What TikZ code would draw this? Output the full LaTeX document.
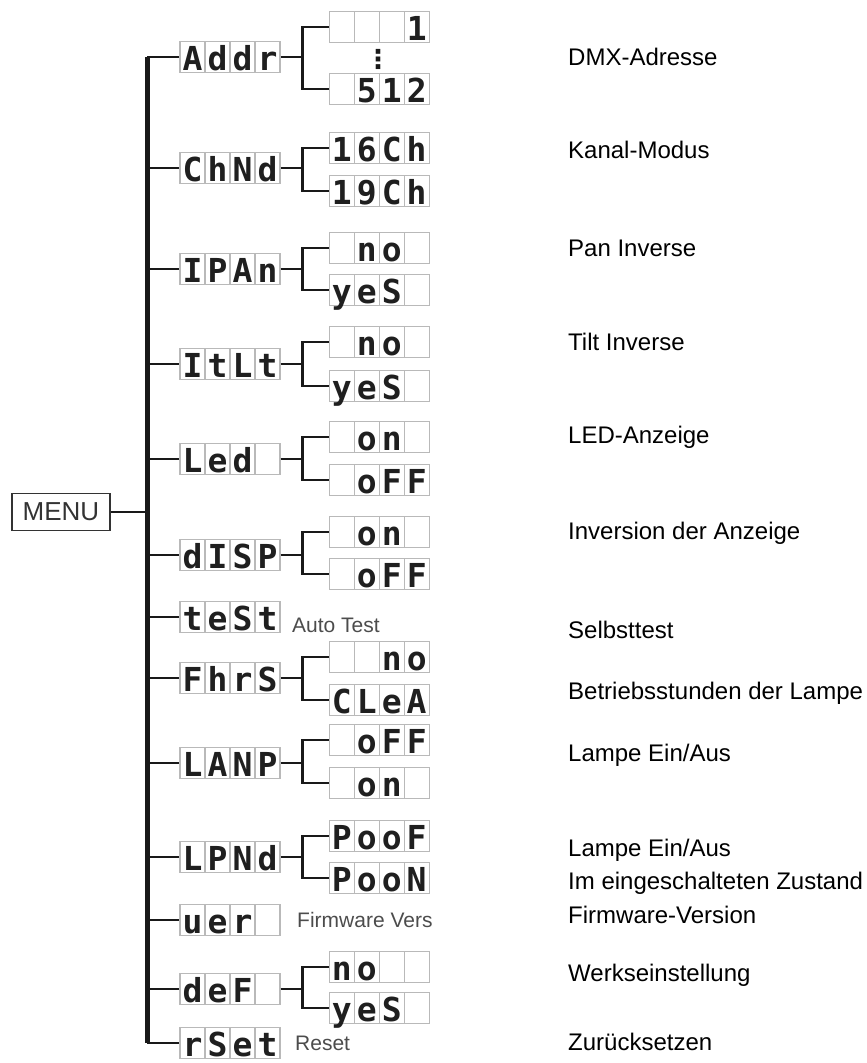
\documentclass[tikz,border=0pt]{standalone}
\usepackage{fontspec}
\setmainfont{Liberation Sans}
\newfontfamily\segfont{DejaVu Sans Mono}
\newfontfamily\symfont{DejaVu Sans}
\usetikzlibrary{positioning,calc}

% four display cells of a 4-digit LED readout
\newcommand{\cells}[4]{\makebox[25pt]{#1}\makebox[25pt]{#2}\makebox[25pt]{#3}\makebox[25pt]{#4}}

\begin{document}
\begin{tikzpicture}[x=1pt, y=-1pt,
  lcd/.style={draw=gray!55, line width=1.2pt, fill=white, minimum width=100pt, minimum height=31pt, inner sep=0pt,
    text height=27pt, text depth=1pt, text=black!88, font=\segfont\bfseries\fontsize{33}{33}\selectfont,
    path picture={\foreach \k in {1,2,3} \draw[gray!55, line width=1.2pt] ([xshift=\k*25pt]path picture bounding box.south west) -- ([xshift=\k*25pt]path picture bounding box.north west);}},
  menubox/.style={draw=black!80, line width=1.5pt, minimum width=98pt, minimum height=37pt, inner sep=0pt, text=black!80, font=\fontsize{26}{30}\selectfont},
  bus/.style={line width=5pt, black!90},
  wire/.style={line width=2.6pt, black!90},
  thinwire/.style={line width=1.4pt, black!90},
  note/.style={anchor=west, inner sep=0pt, text=black!70, font=\fontsize{21}{24}\selectfont},
  desc/.style={anchor=west, inner sep=0pt, font=\fontsize{24}{28}\selectfont}
]
\useasboundingbox (0,0) rectangle (867,1063);

\node[menubox] (MENU) at (61,512) {MENU};
\coordinate (bus) at (147,0);

% menu entries
\node[lcd] (Addr) at (230,57) {\cells{A}{d}{d}{r}};
\node[lcd] (ChNd) at (230,168) {\cells{C}{h}{N}{d}};
\node[lcd] (IPAn) at (230,269) {\cells{I}{P}{A}{n}};
\node[lcd] (ItLt) at (230,364) {\cells{I}{t}{L}{t}};
\node[lcd] (Led) at (230,459) {\cells{L}{e}{d}{}};
\node[lcd] (dISP) at (230,555) {\cells{d}{I}{S}{P}};
\node[lcd] (teSt) at (230,617) {\cells{t}{e}{S}{t}};
\node[lcd] (FhrS) at (230,678) {\cells{F}{h}{r}{S}};
\node[lcd] (LANP) at (230,763) {\cells{L}{A}{N}{P}};
\node[lcd] (LPNd) at (230,857) {\cells{L}{P}{N}{d}};
\node[lcd] (uer) at (230,920) {\cells{u}{e}{r}{}};
\node[lcd] (deF) at (230,989) {\cells{d}{e}{F}{}};
\node[lcd] (rSet) at (230,1043) {\cells{r}{S}{e}{t}};

% bus and branches
\draw[bus] (Addr.west -| bus) -- (rSet.west -| bus);
\draw[wire] (MENU.east) -- (MENU.east -| bus);
\draw[wire] (Addr.west -| bus) -- (Addr.west);
\draw[wire] (ChNd.west -| bus) -- (ChNd.west);
\draw[wire] (IPAn.west -| bus) -- (IPAn.west);
\draw[wire] (ItLt.west -| bus) -- (ItLt.west);
\draw[thinwire] (Led.west -| bus) -- (Led.west);
\draw[thinwire] (dISP.west -| bus) -- (dISP.west);
\draw[wire] (teSt.west -| bus) -- (teSt.west);
\draw[wire] (FhrS.west -| bus) -- (FhrS.west);
\draw[thinwire] (LANP.west -| bus) -- (LANP.west);
\draw[thinwire] (LPNd.west -| bus) -- (LPNd.west);
\draw[wire] (uer.west -| bus) -- (uer.west);
\draw[thinwire] (deF.west -| bus) -- (deF.west);
\draw[thinwire] (rSet.west -| bus) -- (rSet.west);

% values
\node[lcd, right=48pt of Addr, yshift=30pt] (Addr-a) {\cells{}{}{}{1}};
\node[lcd, right=48pt of Addr, yshift=-32pt] (Addr-b) {\cells{}{5}{1}{2}};
\node[inner sep=0pt, text=black!90, font=\symfont\bfseries\fontsize{26}{26}\selectfont] (Addr-dots) at (378,59) {⋮};
\node[lcd, right=48pt of ChNd, yshift=20pt] (ChNd-a) {\cells{1}{6}{C}{h}};
\node[lcd, right=48pt of ChNd, yshift=-23pt] (ChNd-b) {\cells{1}{9}{C}{h}};
\node[lcd, right=48pt of IPAn, yshift=21pt] (IPAn-a) {\cells{}{n}{o}{}};
\node[lcd, right=48pt of IPAn, yshift=-21pt] (IPAn-b) {\cells{y}{e}{S}{}};
\node[lcd, right=48pt of ItLt, yshift=22pt] (ItLt-a) {\cells{}{n}{o}{}};
\node[lcd, right=48pt of ItLt, yshift=-22pt] (ItLt-b) {\cells{y}{e}{S}{}};
\node[lcd, right=48pt of Led, yshift=22pt] (Led-a) {\cells{}{o}{n}{}};
\node[lcd, right=48pt of Led, yshift=-21pt] (Led-b) {\cells{}{o}{F}{F}};
\node[lcd, right=48pt of dISP, yshift=23pt] (dISP-a) {\cells{}{o}{n}{}};
\node[lcd, right=48pt of dISP, yshift=-19pt] (dISP-b) {\cells{}{o}{F}{F}};
\node[lcd, right=48pt of FhrS, yshift=21pt] (FhrS-a) {\cells{}{}{n}{o}};
\node[lcd, right=48pt of FhrS, yshift=-22pt] (FhrS-b) {\cells{C}{L}{e}{A}};
\node[lcd, right=48pt of LANP, yshift=23pt] (LANP-a) {\cells{}{o}{F}{F}};
\node[lcd, right=48pt of LANP, yshift=-20pt] (LANP-b) {\cells{}{o}{n}{}};
\node[lcd, right=48pt of LPNd, yshift=21pt] (LPNd-a) {\cells{P}{o}{o}{F}};
\node[lcd, right=48pt of LPNd, yshift=-21pt] (LPNd-b) {\cells{P}{o}{o}{N}};
\node[lcd, right=48pt of deF, yshift=22pt] (deF-a) {\cells{n}{o}{}{}};
\node[lcd, right=48pt of deF, yshift=-19pt] (deF-b) {\cells{y}{e}{S}{}};

% brackets
\draw[wire] (Addr-a.west) -- ++(-26,0) coordinate (Addr-j) |- (Addr-b.west);
\draw[wire] (Addr.east) -- (Addr.east -| Addr-j);
\draw[wire] (ChNd-a.west) -- ++(-26,0) coordinate (ChNd-j) |- (ChNd-b.west);
\draw[thinwire] (ChNd.east) -- (ChNd.east -| ChNd-j);
\draw[wire] (IPAn-a.west) -- ++(-26,0) coordinate (IPAn-j) |- (IPAn-b.west);
\draw[wire] (IPAn.east) -- (IPAn.east -| IPAn-j);
\draw[wire] (ItLt-a.west) -- ++(-26,0) coordinate (ItLt-j) |- (ItLt-b.west);
\draw[thinwire] (ItLt.east) -- (ItLt.east -| ItLt-j);
\draw[wire] (Led-a.west) -- ++(-26,0) coordinate (Led-j) |- (Led-b.west);
\draw[thinwire] (Led.east) -- (Led.east -| Led-j);
\draw[wire] (dISP-a.west) -- ++(-26,0) coordinate (dISP-j) |- (dISP-b.west);
\draw[wire] (dISP.east) -- (dISP.east -| dISP-j);
\draw[wire] (FhrS-a.west) -- ++(-26,0) coordinate (FhrS-j) |- (FhrS-b.west);
\draw[wire] (FhrS.east) -- (FhrS.east -| FhrS-j);
\draw[wire] (LANP-a.west) -- ++(-26,0) coordinate (LANP-j) |- (LANP-b.west);
\draw[thinwire] (LANP.east) -- (LANP.east -| LANP-j);
\draw[wire] (LPNd-a.west) -- ++(-26,0) coordinate (LPNd-j) |- (LPNd-b.west);
\draw[wire] (LPNd.east) -- (LPNd.east -| LPNd-j);
\draw[wire] (deF-a.west) -- ++(-26,0) coordinate (deF-j) |- (deF-b.west);
\draw[wire] (deF.east) -- (deF.east -| deF-j);

% side notes
\node[note] (n-teSt) at (292,625) {Auto Test};
\node[note] (n-uer) at (297,920) {Firmware Vers};
\node[note] (n-rSet) at (295,1043) {Reset};

% descriptions
\node[desc] (d-Addr) at (568,57) {DMX-Adresse};
\node[desc] (d-ChNd) at (568,150) {Kanal-Modus};
\node[desc] (d-IPAn) at (568,248) {Pan Inverse};
\node[desc] (d-ItLt) at (568,342) {Tilt Inverse};
\node[desc] (d-Led) at (568,437) {LED-Anzeige};
\node[desc] (d-dISP) at (568,533) {Inversion der Anzeige};
\node[desc] (d-teSt) at (568,630) {Selbsttest};
\node[desc] (d-FhrS) at (568,693) {Betriebsstunden der Lampe};
\node[desc] (d-LANP) at (568,755) {Lampe Ein/Aus};
\node[desc] (d-LPNd) at (568,850) {Lampe Ein/Aus};
\node[desc] (d-LPNd2) at (568,883) {Im eingeschalteten Zustand};
\node[desc] (d-uer) at (568,915) {Firmware-Version};
\node[desc] (d-deF) at (568,975) {Werkseinstellung};
\node[desc] (d-rSet) at (568,1042) {Zurücksetzen};

\end{tikzpicture}
\end{document}
